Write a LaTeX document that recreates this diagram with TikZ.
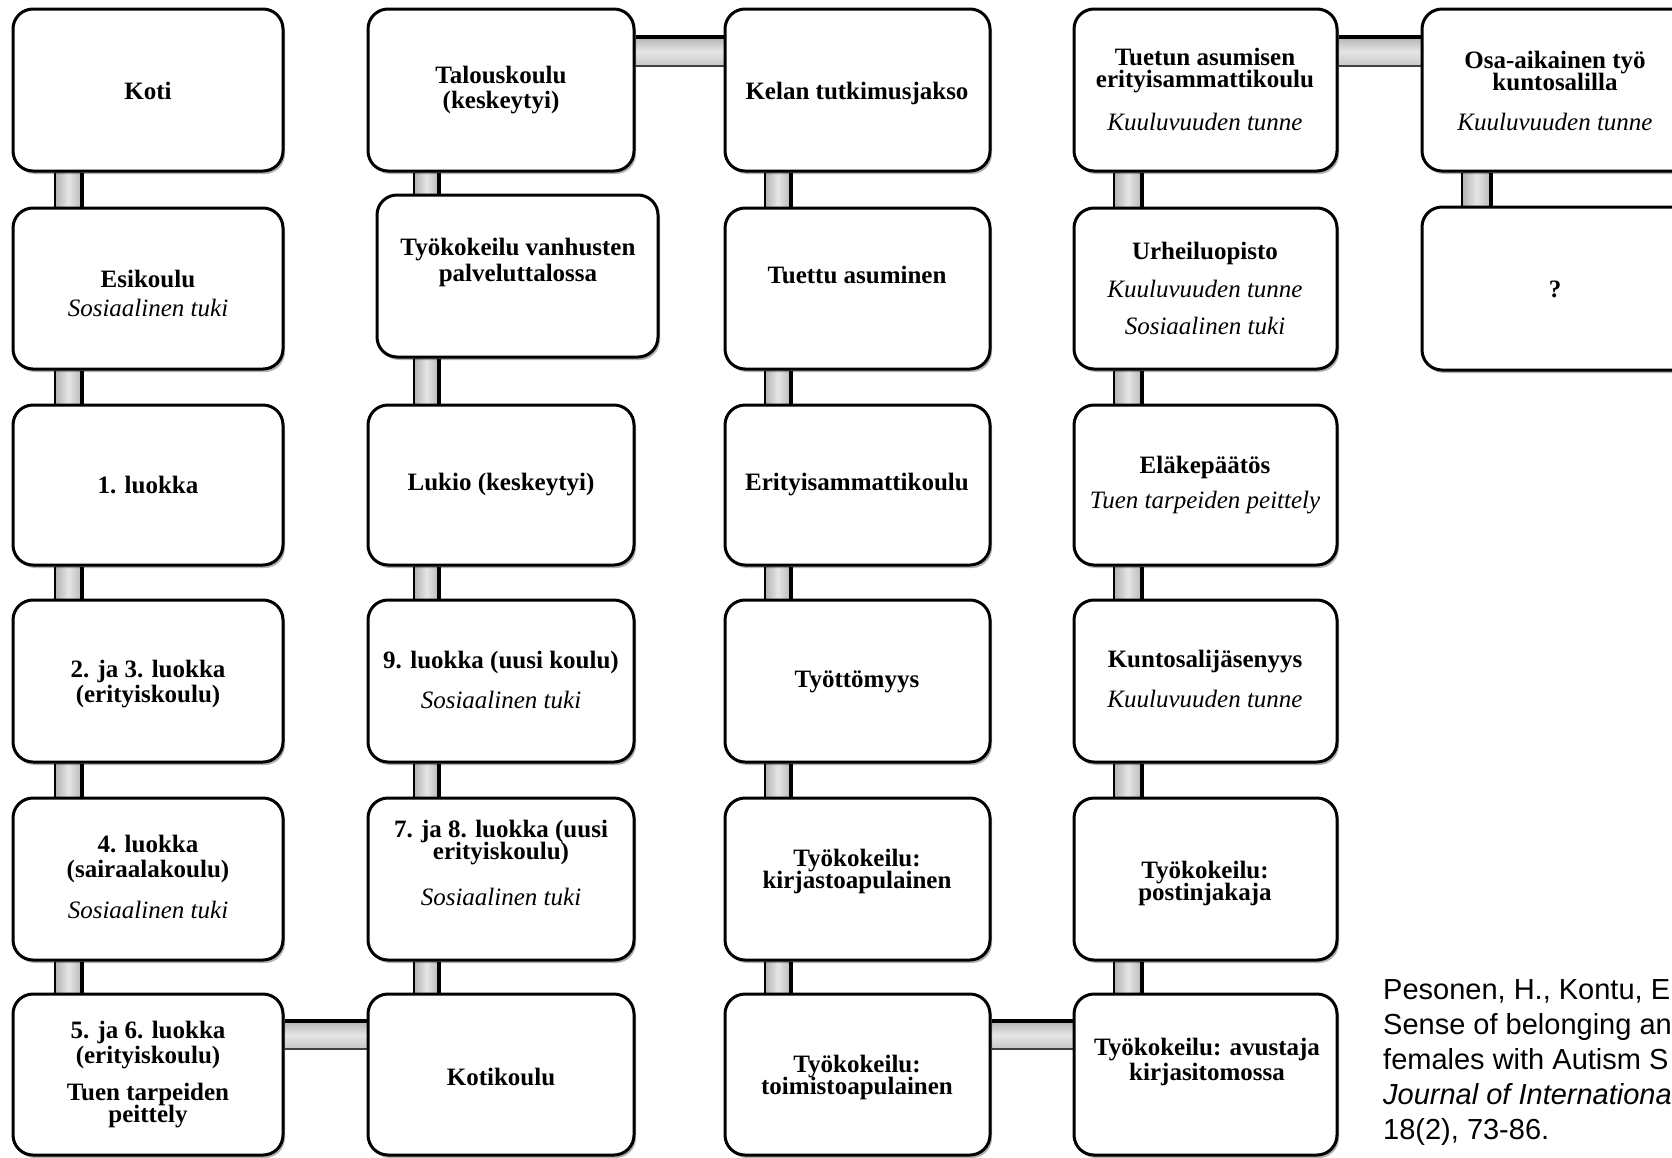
\documentclass[tikz,border=0pt]{standalone}
\usepackage{fontspec}
\setmainfont{Liberation Serif}
\newfontfamily\citefont{Liberation Sans}
\usetikzlibrary{shadows,backgrounds}
\newcommand\vpipe[4]{%
  \shade[pipefill] (#1.south -| #3) rectangle (#2.north -| #4);
  \draw[line width=1.6pt] (#1.south -| #3) -- (#2.north -| #3);
  \draw[line width=3.5pt] (#1.south -| #4) -- (#2.north -| #4);}
\newcommand\hpipe[4]{%
  \shade[hpipefill] (#1.east |- #3) rectangle (#2.west |- #4);
  \draw[line width=3.2pt] (#1.east |- #3) -- (#2.west |- #3);
  \draw[line width=2pt, black!75] (#1.east |- #4) -- (#2.west |- #4);}
\begin{document}
\begin{tikzpicture}[x=1pt,y=-1pt,
  box/.style={draw=black, line width=3pt, rounded corners=20pt, fill=white, inner sep=0pt,
     drop shadow={shadow xshift=2pt, shadow yshift=-3pt, opacity=0.3, fill=black}},
  bt/.style={font=\fontsize{25}{25}\selectfont\bfseries, inner sep=0pt, align=center},
  it/.style={font=\fontsize{25}{25}\selectfont\itshape, inner sep=0pt},
  cite/.style={font=\citefont\fontsize{29}{35}\selectfont, anchor=base west, inner sep=0pt},
  pipefill/.style={left color=black!30, right color=black!28, middle color=black!10},
  hpipefill/.style={top color=black!30, bottom color=black!22, middle color=black!10}
]
\path[use as bounding box] (0,0) rectangle (1672,1157);
\clip (0,0) rectangle (1672,1157);

% column pipe x positions
\coordinate (p1l) at (55,0);   \coordinate (p1r) at (82,0);
\coordinate (p2l) at (414,0);  \coordinate (p2r) at (439,0);
\coordinate (p3l) at (765,0);  \coordinate (p3r) at (791,0);
\coordinate (p4l) at (1114,0); \coordinate (p4r) at (1142,0);
\coordinate (p5l) at (1462,0); \coordinate (p5r) at (1491,0);
\coordinate (h1t) at (0,37);   \coordinate (h1b) at (0,66);
\coordinate (h6t) at (0,1021); \coordinate (h6b) at (0,1049);

% boxes: b<row><col>
\foreach \r/\y/\h in {1/90/162, 2/288.5/161, 3/485/160, 4/681/162, 5/879/162, 6/1074.5/161}{
  \node[box, minimum width=270pt, minimum height=\h pt] (b\r1) at (148,\y) {};
  \node[box, minimum width=265pt, minimum height=\h pt] (b\r3) at (857.5,\y) {};
  \node[box, minimum width=263pt, minimum height=\h pt] (b\r4) at (1205.5,\y) {};
}
\foreach \r/\y/\h in {1/90/162, 3/485/160, 4/681/162, 5/879/162, 6/1074.5/161}{
  \node[box, minimum width=266pt, minimum height=\h pt] (b\r2) at (501,\y) {};
}
\node[box, minimum width=281pt, minimum height=162pt] (b22) at (517.5,276) {};
\node[box, minimum width=270pt, minimum height=162pt] (b15) at (1557,90) {};
\node[box, minimum width=270pt, minimum height=163pt] (b25) at (1557,288.5) {};

% connectors (behind the boxes)
\begin{scope}[on background layer]
  \fill[white] (0,0) rectangle (1672,1157);
  \foreach \c in {1,2,3,4}{
    \foreach \a/\b in {1/2,2/3,3/4,4/5,5/6}{
      \vpipe{b\a\c}{b\b\c}{p\c l}{p\c r}
    }
  }
  \vpipe{b15}{b25}{p5l}{p5r}
  \hpipe{b12}{b13}{h1t}{h1b}
  \hpipe{b14}{b15}{h1t}{h1b}
  \hpipe{b61}{b62}{h6t}{h6b}
  \hpipe{b63}{b64}{h6t}{h6b}
\end{scope}

% column 1
\node[bt] (t11) at (148,91) {Koti};
\node[bt] (t21) at (148,279) {Esikoulu};
\node[it] (s21) at (148,308) {Sosiaalinen tuki};
\node[bt] (t31) at (148,485) {1. luokka};
\node[bt] (t41) at (148,684) {2. ja 3. luokka\\(erityiskoulu)};
\node[bt] (t51) at (148,858.5) {4. luokka\\(sairaalakoulu)};
\node[it] (s51) at (148,910) {Sosiaalinen tuki};
\node[bt] (t61) at (148,1045) {5. ja 6. luokka\\(erityiskoulu)};
\node[bt] (s61) at (148,1106) {Tuen tarpeiden\\[-3pt]peittely};
% column 2
\node[bt] (t12) at (501,90.5) {Talouskoulu\\(keskeytyi)};
\node[bt] (t22) at (518,262) {Työkokeilu vanhusten\\[1pt]palveluttalossa};
\node[bt] (t32) at (501,485) {Lukio (keskeytyi)};
\node[bt] (t42) at (501,662) {9. luokka (uusi koulu)};
\node[it] (s42) at (501,700) {Sosiaalinen tuki};
\node[bt] (t52) at (501,843) {7. ja 8. luokka (uusi\\[-3pt]erityiskoulu)};
\node[it] (s52) at (501,897) {Sosiaalinen tuki};
\node[bt] (t62) at (501,1077) {Kotikoulu};
% column 3
\node[bt] (t13) at (857,93) {Kelan tutkimusjakso};
\node[bt] (t23) at (857,275) {Tuettu asuminen};
\node[bt] (t33) at (857,485) {Erityisammattikoulu};
\node[bt] (t43) at (857,682) {Työttömyys};
\node[bt] (t53) at (857,871.5) {Työkokeilu:\\[-3pt]kirjastoapulainen};
\node[bt] (t63) at (857,1077) {Työkokeilu:\\[-3pt]toimistoapulainen};
% column 4
\node[bt] (t14) at (1205,71) {Tuetun asumisen\\[-3pt]erityisammattikoulu};
\node[it] (s14) at (1205,122) {Kuuluvuuden tunne};
\node[bt] (t24) at (1205,253) {Urheiluopisto};
\node[it] (s24) at (1205,289) {Kuuluvuuden tunne};
\node[it] (u24) at (1205,326) {Sosiaalinen tuki};
\node[bt] (t34) at (1205,467) {Eläkepäätös};
\node[it] (s34) at (1205,503) {Tuen tarpeiden peittely};
\node[bt] (t44) at (1205,662) {Kuntosalijäsenyys};
\node[it] (s44) at (1205,699) {Kuuluvuuden tunne};
\node[bt] (t54) at (1205,883.5) {Työkokeilu:\\[-3pt]postinjakaja};
\node[bt] (t64) at (1207,1062) {Työkokeilu: avustaja\\kirjasitomossa};
% column 5
\node[bt] (t15) at (1555,71) {Osa-aikainen työ\\[-3pt]kuntosalilla};
\node[it] (s15) at (1555,122) {Kuuluvuuden tunne};
\node[bt] (t25) at (1555,289) {?};

% citation
\node[cite] (c1) at (1383,999) {Pesonen, H., Kontu, E};
\node[cite] (c2) at (1383,1034) {Sense of belonging an};
\node[cite] (c3) at (1383,1069) {females with Autism S};
\node[cite, font=\citefont\itshape\fontsize{29}{35}\selectfont] (c4) at (1383,1104) {Journal of Internationa};
\node[cite] (c5) at (1383,1139) {18(2), 73-86.};
\end{tikzpicture}
\end{document}
